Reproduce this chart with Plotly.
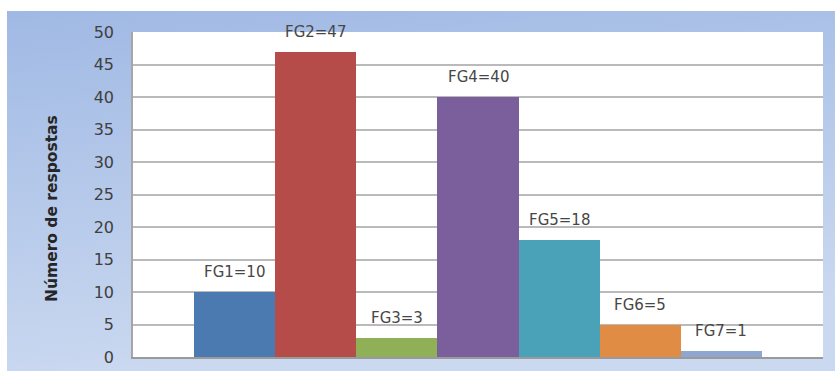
import base64
import plotly.graph_objects as go

categories = ["FG1", "FG2", "FG3", "FG4", "FG5", "FG6", "FG7"]
values = [10, 47, 3, 40, 18, 5, 1]
bar_colors = ["#4a7ab0", "#b54c49", "#8fb057", "#7b5e9c", "#4aa2b9", "#e08c45", "#8fa6d0"]
labels = [f"{c}={v}" for c, v in zip(categories, values)]
y_ticks = list(range(0, 55, 5))
y_title = "Número de respostas"

W, H = 835, 371
ML, MR, MT, MB = 133, 12, 32, 14
PW, PH = W - ML - MR, H - MT - MB

svg = f'''<svg xmlns="http://www.w3.org/2000/svg" width="{W}" height="{H}" viewBox="0 0 {W} {H}">
<defs><linearGradient id="g" x1="0" y1="0" x2="0.25" y2="1">
<stop offset="0" stop-color="#a0b9e4"/><stop offset="1" stop-color="#cbd9f0"/></linearGradient></defs>
<rect x="0" y="0" width="{W}" height="{H}" fill="#ffffff"/>
<rect x="7" y="11" width="{W-7}" height="{H-11}" fill="url(#g)"/>
</svg>'''
src = "data:image/svg+xml;base64," + base64.b64encode(svg.encode()).decode()

fig = go.Figure()
fig.add_trace(go.Bar(
    x=categories, y=values,
    marker=dict(color=bar_colors, line=dict(width=0)),
    hoverinfo="skip",
))

for c, v, t in zip(categories, values, labels):
    fig.add_annotation(
        x=c, y=v, text=t, showarrow=False, yanchor="bottom", yshift=9,
        font=dict(family="DejaVu Sans", size=15, color="#474747"),
    )

fig.add_annotation(
    xref="paper", yref="paper", x=(52 - ML) / PW, y=(357 - 209) / PH,
    text=f"<b>{y_title}</b>", textangle=-90, showarrow=False,
    xanchor="center", yanchor="middle",
    font=dict(family="DejaVu Sans", size=15.5, color="#262626"),
)

fig.add_layout_image(dict(
    source=src, xref="paper", yref="paper",
    x=-ML / PW, y=1 + MT / PH, sizex=W / PW, sizey=H / PH,
    xanchor="left", yanchor="top", sizing="stretch", layer="below",
))
fig.add_shape(type="rect", xref="x domain", yref="y domain", x0=0, x1=1, y0=0, y1=1,
              fillcolor="#ffffff", line=dict(width=0), layer="below")

fig.update_layout(
    width=W, height=H,
    margin=dict(l=ML, r=MR, t=MT, b=MB, autoexpand=False),
    paper_bgcolor="#ffffff", plot_bgcolor="#ffffff",
    bargap=0, showlegend=False,
    xaxis=dict(type="category", range=[-1.252, 7.252], showticklabels=False,
               showgrid=False, zeroline=False, showline=True, automargin=False,
               linecolor="#9a9a9a", linewidth=1.5, ticks=""),
    yaxis=dict(range=[0, 50], tickvals=y_ticks, showgrid=True, automargin=False,
               gridcolor="#bababa", gridwidth=1.5, zeroline=False,
               showline=True, linecolor="#a6a6a6", linewidth=1.5,
               ticks="outside", ticklen=14, tickcolor="rgba(0,0,0,0)",
               tickfont=dict(family="DejaVu Sans", size=16, color="#404040")),
)

fig.write_html("out.html")
